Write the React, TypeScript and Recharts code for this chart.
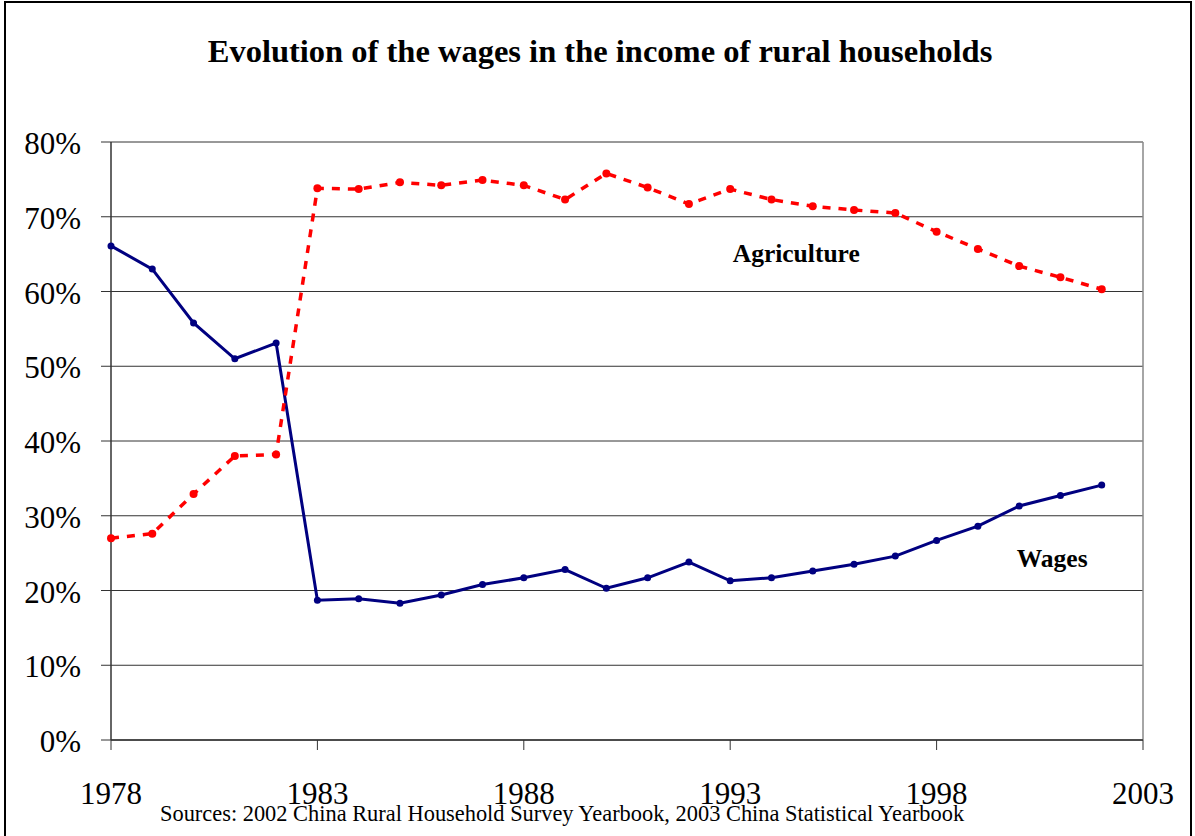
import { LineChart, Line, XAxis, YAxis, CartesianGrid, ReferenceLine, ReferenceDot } from 'recharts';

const years = [1978, 1979, 1980, 1981, 1982, 1983, 1984, 1985, 1986, 1987, 1988, 1989, 1990, 1991, 1992, 1993, 1994, 1995, 1996, 1997, 1998, 1999, 2000, 2001, 2002];
const wages = [66.1, 63.0, 55.8, 51.0, 53.1, 18.7, 18.9, 18.3, 19.4, 20.8, 21.7, 22.8, 20.3, 21.7, 23.8, 21.3, 21.7, 22.6, 23.5, 24.6, 26.7, 28.6, 31.3, 32.7, 34.1];
const agriculture = [27.0, 27.6, 32.9, 38.0, 38.2, 73.8, 73.7, 74.6, 74.2, 74.9, 74.2, 72.3, 75.8, 73.9, 71.7, 73.7, 72.3, 71.4, 70.9, 70.5, 68.0, 65.7, 63.4, 61.9, 60.3];
const xTicks = [1978, 1983, 1988, 1993, 1998, 2003];
const yTicks = [0, 10, 20, 30, 40, 50, 60, 70, 80];

const title = 'Evolution of the wages in the income of rural households';
const source = 'Sources: 2002 China Rural Household Survey Yearbook, 2003 China Statistical Yearbook';

const data = years.map((year, i) => ({ year, wages: wages[i], agriculture: agriculture[i] }));

const serif = "'Liberation Serif', 'Times New Roman', serif";

function XTick({ x, y, payload }: any) {
  return (
    <text x={x} y={y + 22} textAnchor="middle" style={{ fontFamily: serif, fontSize: 31, fill: '#000' }}>
      {payload.value}
    </text>
  );
}

function YTick({ x, y, payload }: any) {
  return (
    <text x={x} y={y + 12} textAnchor="end" style={{ fontFamily: serif, fontSize: 31, fill: '#000' }}>
      {`${payload.value}%`}
    </text>
  );
}

function NoteLabel({ viewBox, value }: any) {
  return (
    <text
      x={viewBox.x}
      y={viewBox.y + 9}
      textAnchor="middle"
      style={{ fontFamily: serif, fontSize: 25.5, fontWeight: 'bold', fill: '#000' }}
    >
      {value}
    </text>
  );
}

export default function App() {
  return (
    <div style={{ position: 'absolute', left: 0, top: 0, width: 1195, height: 836, overflow: 'hidden', background: '#fff', fontFamily: serif }}>
      <div style={{ position: 'absolute', left: 4, top: 1, width: 1184, height: 850, border: '2px solid #000' }} />
      <div style={{ position: 'absolute', left: 0, top: 31, width: 1200, textAlign: 'center', fontSize: 32.5, fontWeight: 'bold', lineHeight: '40px', whiteSpace: 'nowrap' }}>
        {title}
      </div>
      <div style={{ position: 'absolute', left: 0, top: 0 }}>
        <LineChart width={1195} height={836} data={data} margin={{ top: 142, right: 52, bottom: 36, left: 51 }}>
          <CartesianGrid vertical={false} stroke="#333" strokeWidth={1} />
          <XAxis
            dataKey="year"
            type="number"
            domain={[1978, 2003]}
            ticks={xTicks}
            height={60}
            tickSize={10}
            tickMargin={32}
            axisLine={{ stroke: '#333', strokeWidth: 1.5 }}
            tickLine={{ stroke: '#333' }}
            tick={<XTick />}
          />
          <YAxis
            type="number"
            domain={[0, 80]}
            ticks={yTicks}
            width={60}
            tickSize={10}
            tickMargin={20}
            axisLine={{ stroke: '#333', strokeWidth: 1.5 }}
            tickLine={{ stroke: '#333' }}
            tick={<YTick />}
          />
          <ReferenceLine x={2003} stroke="#888" strokeWidth={1.5} />
          <Line
            dataKey="wages"
            stroke="#000080"
            strokeWidth={3}
            dot={{ r: 3.5, fill: '#000080', stroke: 'none' }}
            isAnimationActive={false}
          />
          <Line
            dataKey="agriculture"
            stroke="#ff0000"
            strokeWidth={3.5}
            strokeDasharray="8 8"
            dot={{ r: 4, fill: '#ff0000', stroke: 'none' }}
            isAnimationActive={false}
          />
          <ReferenceDot
            x={1994.6}
            y={65.2}
            r={0}
            stroke="none"
            fill="none"
            label={<NoteLabel value="Agriculture" />}
          />
          <ReferenceDot
            x={2000.8}
            y={24.3}
            r={0}
            stroke="none"
            fill="none"
            label={<NoteLabel value="Wages" />}
          />
        </LineChart>
      </div>
      <div style={{ position: 'absolute', left: 160, top: 801, fontSize: 22.4, lineHeight: '26px', whiteSpace: 'nowrap' }}>
        {source}
      </div>
    </div>
  );
}
